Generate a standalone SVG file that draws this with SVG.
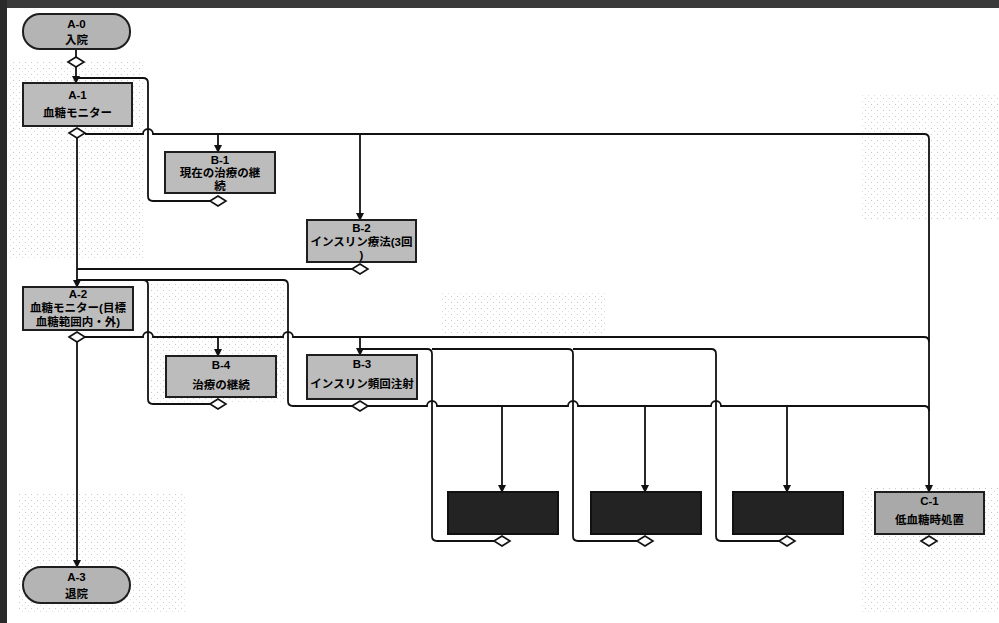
<svg xmlns="http://www.w3.org/2000/svg" width="999" height="623" viewBox="0 0 999 623">
<style>
.box{fill:#bcbcbc;stroke:#1e1e1e;stroke-width:2}
.pill{fill:#b4b4b4;stroke:#1e1e1e;stroke-width:2}
.dark{fill:#232323;stroke:#111;stroke-width:2}
.c1{fill:#a9a9a9;stroke:#1e1e1e;stroke-width:2}
.dia{fill:#fff;stroke:#111;stroke-width:1.6}
.ln{fill:none;stroke:#111;stroke-width:1.8}
.t{font-family:"Liberation Sans","Noto Sans CJK JP",sans-serif;font-size:11.5px;font-weight:bold;fill:#000;text-anchor:middle}
.patch{fill:url(#stip)}
</style>
<defs>
<pattern id="stip" width="6" height="6" patternUnits="userSpaceOnUse">
<rect x="1" y="2" width="1" height="1" fill="#c8c8c8"/>
<rect x="4" y="5" width="1" height="1" fill="#dcdcdc"/>
</pattern>
<marker id="arr" markerUnits="userSpaceOnUse" markerWidth="8" markerHeight="8" refX="7" refY="4" orient="auto">
<path d="M0,0 L8,4 L0,8 z" fill="#111"/>
</marker>
</defs>
<rect width="999" height="623" fill="#fff"/>
<rect x="0" y="0" width="999" height="8" fill="#3a3a3a"/>
<rect x="0" y="0" width="7" height="623" fill="#2a2a2a"/>
<g id="background">
<rect class="patch" x="10" y="60" width="135" height="200"/>
<rect class="patch" x="150" y="282" width="135" height="120"/>
<rect class="patch" x="440" y="293" width="165" height="42"/>
<rect class="patch" x="860" y="95" width="139" height="125"/>
<rect class="patch" x="18" y="492" width="168" height="122"/>
<rect class="patch" x="860" y="488" width="139" height="125"/>
</g>
<g id="connectors">
<path class="ln" d="M76,49 V57"/>
<path class="ln" d="M76,67 V83" marker-end="url(#arr)"/>
<path class="ln" d="M77,78 H143 Q148,78 148,83 V196 Q148,201 153,201 H210"/>
<path class="ln" d="M85,134 H143 a5,5 0 0 1 10,0 H924 Q929,134 929,139 V492" marker-end="url(#arr)"/>
<path class="ln" d="M218,134 V152" marker-end="url(#arr)"/>
<path class="ln" d="M360,134 V220" marker-end="url(#arr)"/>
<path class="ln" d="M77,138 V287" marker-end="url(#arr)"/>
<path class="ln" d="M352,269 H77"/>
<path class="ln" d="M77,280 H283 Q288,280 288,285 V401 Q288,406 293,406 H352"/>
<path class="ln" d="M143,280 Q148,280 148,285 V399 Q148,404 153,404 H210"/>
<path class="ln" d="M85,337 H143 a5,5 0 0 1 10,0 H283 a5,5 0 0 1 10,0 H924 Q929,337 929,342"/>
<path class="ln" d="M218,337 V356" marker-end="url(#arr)"/>
<path class="ln" d="M360,337 V355" marker-end="url(#arr)"/>
<path class="ln" d="M360,349 H427 Q432,349 432,354 V536 Q432,541 437,541 H494"/>
<path class="ln" d="M432,349 H568 Q573,349 573,354 V536 Q573,541 578,541 H637"/>
<path class="ln" d="M573,349 H711 Q716,349 716,354 V536 Q716,541 721,541 H779"/>
<path class="ln" d="M368,406 H427 a5,5 0 0 1 10,0 H568 a5,5 0 0 1 10,0 H711 a5,5 0 0 1 10,0 H924 Q929,406 929,411"/>
<path class="ln" d="M502,406 V492" marker-end="url(#arr)"/>
<path class="ln" d="M645,406 V492" marker-end="url(#arr)"/>
<path class="ln" d="M787,406 V492" marker-end="url(#arr)"/>
<path class="ln" d="M77,342 V567" marker-end="url(#arr)"/>
</g>
<g id="A-0">
<rect class="pill" x="23" y="14" width="107" height="35" rx="17"/>
<text class="t" x="76.5" y="28">A-0</text>
<text class="t" x="76.5" y="44">入院</text>
<path class="dia" d="M68,62 L76,57 L84,62 L76,67 z"/>
</g>
<g id="A-1">
<rect class="box" x="23" y="83" width="109" height="43"/>
<text class="t" x="77.5" y="99">A-1</text>
<text class="t" x="77.5" y="117">血糖モニター</text>
<path class="dia" d="M69,133 L77,128 L85,133 L77,138 z"/>
</g>
<g id="B-1">
<rect class="box" x="165" y="152" width="110" height="41"/>
<text class="t" x="220" y="164">B-1</text>
<text class="t" x="220" y="177">現在の治療の継</text>
<text class="t" x="220" y="190">続</text>
<path class="dia" d="M210,201 L218,196 L226,201 L218,206 z"/>
</g>
<g id="B-2">
<rect class="box" x="307" y="220" width="109" height="42"/>
<text class="t" x="361.5" y="232">B-2</text>
<text class="t" x="361.5" y="246">インスリン療法(3回</text>
<text class="t" x="361.5" y="259">)</text>
<path class="dia" d="M352,269 L360,264 L368,269 L360,274 z"/>
</g>
<g id="A-2">
<rect class="box" x="23" y="287" width="110" height="43"/>
<text class="t" x="78" y="298">A-2</text>
<text class="t" x="78" y="312">血糖モニター(目標</text>
<text class="t" x="78" y="326">血糖範囲内・外)</text>
<path class="dia" d="M69,337 L77,332 L85,337 L77,342 z"/>
</g>
<g id="B-4">
<rect class="box" x="166" y="356" width="110" height="41"/>
<text class="t" x="221" y="369">B-4</text>
<text class="t" x="221" y="389">治療の継続</text>
<path class="dia" d="M210,404 L218,399 L226,404 L218,409 z"/>
</g>
<g id="B-3">
<rect class="box" x="307" y="355" width="110" height="44"/>
<text class="t" x="362" y="368">B-3</text>
<text class="t" x="362" y="388">インスリン頻回注射</text>
<path class="dia" d="M352,406 L360,401 L368,406 L360,411 z"/>
</g>
<g id="D-1">
<rect class="dark" x="448" y="492" width="110" height="42"/>
<path class="dia" d="M494,541 L502,536 L510,541 L502,546 z"/>
</g>
<g id="D-2">
<rect class="dark" x="591" y="492" width="110" height="42"/>
<path class="dia" d="M637,541 L645,536 L653,541 L645,546 z"/>
</g>
<g id="D-3">
<rect class="dark" x="733" y="492" width="110" height="42"/>
<path class="dia" d="M779,541 L787,536 L795,541 L787,546 z"/>
</g>
<g id="C-1">
<rect class="c1" x="875" y="492" width="109" height="42"/>
<text class="t" x="929.5" y="505">C-1</text>
<text class="t" x="929.5" y="524">低血糖時処置</text>
<path class="dia" d="M921,541 L929,536 L937,541 L929,546 z"/>
</g>
<g id="A-3">
<rect class="pill" x="23" y="567" width="107" height="36" rx="18"/>
<text class="t" x="76.5" y="581">A-3</text>
<text class="t" x="76.5" y="598">退院</text>
</g>
</svg>
